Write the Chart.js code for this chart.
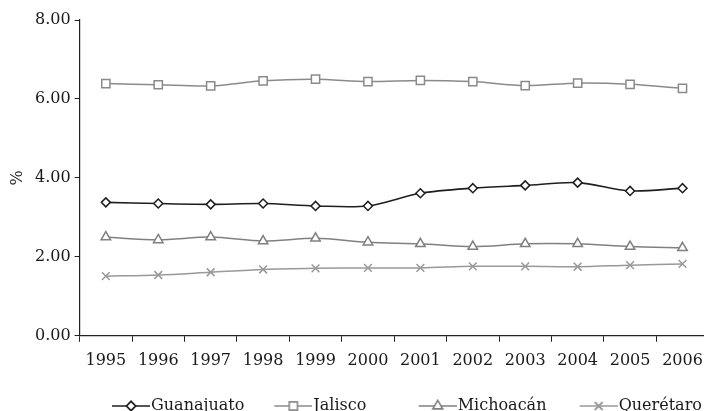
<!DOCTYPE html>
<html>
<head>
<meta charset="utf-8">
<script src="https://cdn.jsdelivr.net/npm/chart.js@4/dist/chart.umd.min.js"></script>
<style>
  html, body { margin: 0; padding: 0; background: #fff; overflow: hidden; }
  #wrap { width: 716px; height: 424px; }
</style>
</head>
<body>
<div id="wrap"><canvas id="chart" width="716" height="424"></canvas></div>
<script>
// Share of each state, 1995-2006 (%)
const years = ['1995', '1996', '1997', '1998', '1999', '2000', '2001', '2002', '2003', '2004', '2005', '2006'];
const guanajuato = [3.38, 3.35, 3.33, 3.35, 3.29, 3.29, 3.61, 3.74, 3.81, 3.88, 3.67, 3.74];
const jalisco    = [6.39, 6.36, 6.33, 6.46, 6.50, 6.44, 6.47, 6.44, 6.34, 6.40, 6.37, 6.27];
const michoacan  = [2.50, 2.43, 2.50, 2.40, 2.47, 2.37, 2.33, 2.26, 2.33, 2.33, 2.26, 2.23];
const queretaro  = [1.51, 1.54, 1.61, 1.68, 1.71, 1.72, 1.72, 1.76, 1.76, 1.75, 1.79, 1.82];
const yTicks = [0, 2, 4, 6, 8];

const FONT = "'DejaVu Serif', serif";
const SIZE = 16;
const BOX = 58;          // legend box width
const SWATCH = BOX + 14; // swatch image is wider, line sits at its right end
const LINE = 38;         // visible swatch line length

// trailing spaces widen some legend entries so the row spacing is uneven
const legendTail = ['', '\u2009\u2009\u2009\u2009\u2009\u2009\u2009', '\u2009', ' '];

// legend swatch: short line with the marker in the middle
function swatch(color, style, radius, lineWidth) {
    const c = document.createElement('canvas');
    c.width = SWATCH;
    c.height = 14;
    const ctx = c.getContext('2d');
    const x0 = SWATCH - LINE;
    ctx.strokeStyle = color;
    ctx.lineWidth = lineWidth;
    ctx.beginPath();
    ctx.moveTo(x0, 7);
    ctx.lineTo(SWATCH, 7);
    ctx.stroke();
    Chart.helpers.drawPoint(ctx, { pointStyle: style, radius: radius, borderWidth: 1.5 }, x0 + LINE / 2, 7);
    ctx.fillStyle = '#fff';
    if (style !== 'crossRot') ctx.fill();
    ctx.stroke();
    return c;
}

function series(label, data, color, style, radius, width) {
    return {
        label: label,
        data: data,
        borderColor: color,
        backgroundColor: '#fff',
        borderWidth: width,
        pointStyle: style,
        pointRadius: radius,
        pointBorderWidth: 1.5,
        pointBorderColor: color,
        pointBackgroundColor: '#fff',
        tension: 0.3,
        swatch: swatch(color, style, radius, width)
    };
}

const datasets = [
    series('Guanajuato', guanajuato, '#1e1e1e', 'rectRot', 4.5, 1.6),
    series('Jalisco', jalisco, '#8a8a8a', 'rect', 5.8, 1.5),
    series('Michoacán', michoacan, '#808080', 'triangle', 5.5, 1.5),
    series('Querétaro', queretaro, '#999999', 'crossRot', 5.5, 1.5)
];

new Chart(document.getElementById('chart'), {
    type: 'line',
    data: { labels: years, datasets: datasets },
    options: {
        responsive: false,
        animation: false,
        layout: { padding: { left: 10, right: 6, top: 20, bottom: 0 } },
        plugins: {
            tooltip: { enabled: false },
            legend: {
                position: 'bottom',
                align: 'end',
                // empty title only adds room between the axis and the legend row
                title: { display: true, text: ' ', font: { size: 10 }, padding: 2 },
                labels: {
                    color: '#1a1a1a',
                    font: { family: FONT, size: SIZE },
                    usePointStyle: true,
                    pointStyleWidth: BOX,
                    padding: 3,
                    generateLabels: function(chart) {
                        return chart.data.datasets.map(function(ds, i) {
                            return {
                                text: ds.label + legendTail[i],
                                pointStyle: ds.swatch,
                                fillStyle: '#fff',
                                strokeStyle: ds.borderColor,
                                lineWidth: 0,
                                fontColor: '#1a1a1a',
                                datasetIndex: i
                            };
                        });
                    }
                }
            }
        },
        scales: {
            x: {
                offset: true,
                grid: {
                    offset: true,
                    drawOnChartArea: false,
                    tickLength: 6,
                    color: '#222'
                },
                border: { color: '#222', width: 1.2 },
                ticks: {
                    color: '#1a1a1a',
                    font: { family: FONT, size: SIZE },
                    maxRotation: 0,
                    padding: 9
                }
            },
            y: {
                min: 0,
                max: 8,
                afterBuildTicks: function(axis) {
                    axis.ticks = yTicks.map(function(v) { return { value: v }; });
                },
                grid: {
                    drawOnChartArea: false,
                    tickLength: 5,
                    color: '#222'
                },
                border: { color: '#222', width: 1.2 },
                ticks: {
                    color: '#1a1a1a',
                    font: { family: FONT, size: SIZE },
                    padding: 4,
                    callback: function(v) { return v.toFixed(2); }
                },
                title: {
                    display: true,
                    text: '%',
                    color: '#1a1a1a',
                    font: { family: FONT, size: SIZE, lineHeight: 1 },
                    padding: { top: 0, bottom: 5 }
                }
            }
        }
    }
});
</script>
</body>
</html>
